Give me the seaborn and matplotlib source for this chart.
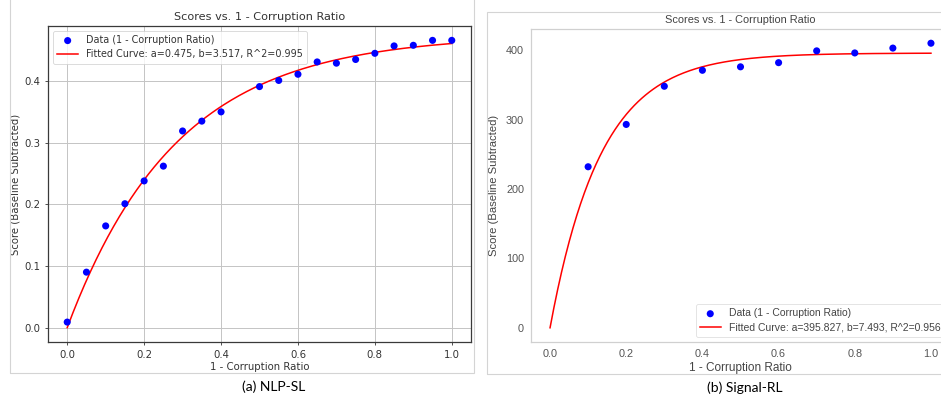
import numpy as np
import pandas as pd
import matplotlib
matplotlib.use("Agg")
import matplotlib.pyplot as plt
import seaborn as sns
from matplotlib.patches import Rectangle

# ---- data ----
x_nlp = [0.0, 0.05, 0.10, 0.15, 0.20, 0.25, 0.30, 0.35, 0.40, 0.50, 0.55, 0.60,
         0.65, 0.70, 0.75, 0.80, 0.85, 0.90, 0.95, 1.00]
y_nlp = [0.009, 0.090, 0.165, 0.201, 0.238, 0.262, 0.319, 0.335, 0.350, 0.391, 0.401, 0.411,
         0.431, 0.429, 0.435, 0.445, 0.457, 0.458, 0.466, 0.466]
a_nlp, b_nlp, r2_nlp = 0.475, 3.517, 0.995

x_sig = [0.1, 0.2, 0.3, 0.4, 0.5, 0.6, 0.7, 0.8, 0.9, 1.0]
y_sig = [232, 293, 348, 371, 376, 382, 399, 396, 403, 410]
a_sig, b_sig, r2_sig = 395.827, 7.493, 0.956

captions = ["(a) NLP-SL", "(b) Signal-RL"]
title = "Scores vs. 1 - Corruption Ratio"
xlabel = "1 - Corruption Ratio"
ylabel = "Score (Baseline Subtracted)"

W, H = 941, 396
fig = plt.figure(figsize=(W / 100, H / 100), dpi=100)

def px_axes(x0, y0, x1, y1):
    return [x0 / W, 1 - y1 / H, (x1 - x0) / W, (y1 - y0) / H]

fs = 7.3

def fit_curve(a, b):
    xs = np.linspace(0, 1, 200)
    return pd.DataFrame({"x": xs, "y": a * (1 - np.exp(-b * xs))})

# ---- left panel (matplotlib default look with grid) ----
ax1 = fig.add_axes(px_axes(48, 26, 471, 342))
ax1.set_axisbelow(True)
ax1.grid(True, color="#c4c4c4", linewidth=0.7)
d1 = pd.DataFrame({"x": x_nlp, "y": y_nlp})
sns.scatterplot(data=d1, x="x", y="y", ax=ax1, color="blue", s=26, edgecolor="none",
                label="Data (1 - Corruption Ratio)", zorder=3)
c1 = fit_curve(a_nlp, b_nlp)
sns.lineplot(data=c1, x="x", y="y", ax=ax1, color="red", linewidth=1.1,
             label=f"Fitted Curve: a={a_nlp:.3f}, b={b_nlp:.3f}, R^2={r2_nlp:.3f}", zorder=2)
ax1.set_xticks([0, 0.2, 0.4, 0.6, 0.8, 1.0])
ax1.set_yticks([0, 0.1, 0.2, 0.3, 0.4])
ax1.set_title(title, fontsize=fs + 0.8, color="#333333", pad=4)
ax1.set_xlabel(xlabel, fontsize=fs, color="#333333", labelpad=1.5)
ax1.set_ylabel(ylabel, fontsize=fs, color="#333333", labelpad=3)
ax1.tick_params(labelsize=fs, colors="#333333", length=2.5, width=0.6, pad=3)
for s in ax1.spines.values():
    s.set_color("#3a3a3a")
    s.set_linewidth(0.9)
leg1 = ax1.legend(loc="upper left", fontsize=6.9, frameon=True, borderpad=0.45,
                  handlelength=2.2, labelspacing=0.45, framealpha=0.8)
leg1.get_frame().set_edgecolor("#cccccc")
leg1.get_frame().set_linewidth(0.6)
for t in leg1.get_texts():
    t.set_color("#333333")

# ---- right panel (seaborn white look) ----
with sns.axes_style("white"):
    ax2 = fig.add_axes(px_axes(531, 29, 950, 342))
d2 = pd.DataFrame({"x": x_sig, "y": y_sig})
sns.scatterplot(data=d2, x="x", y="y", ax=ax2, color="blue", s=26, edgecolor="none",
                label="Data (1 - Corruption Ratio)", zorder=3)
c2 = fit_curve(a_sig, b_sig)
sns.lineplot(data=c2, x="x", y="y", ax=ax2, color="red", linewidth=1.1,
             label=f"Fitted Curve: a={a_sig:.3f}, b={b_sig:.3f}, R^2={r2_sig:.3f}", zorder=2)
ax2.set_xticks([0, 0.2, 0.4, 0.6, 0.8, 1.0])
ax2.set_yticks([0, 100, 200, 300, 400])
ax2.grid(False)
ax2.set_title(title, fontsize=fs + 0.6, color="#444444", pad=4, family="Liberation Sans")
ax2.set_xlabel(xlabel, fontsize=fs + 1.2, color="#444444", labelpad=2.5, family="Liberation Sans")
ax2.set_ylabel(ylabel, fontsize=fs + 0.8, color="#444444", labelpad=5, family="Liberation Sans")
ax2.tick_params(labelsize=fs + 0.5, colors="#555555", length=0, pad=5)
for lab in ax2.get_xticklabels() + ax2.get_yticklabels():
    lab.set_family("Liberation Sans")
for s in ax2.spines.values():
    s.set_color("#d0d0d0")
    s.set_linewidth(0.9)
leg2 = ax2.legend(loc="lower right", bbox_to_anchor=(1.0, 0.0), fontsize=fs + 0.2,
                  frameon=True, borderpad=0.4, handlelength=2.0, labelspacing=0.4,
                  prop={"family": "Liberation Sans", "size": fs + 0.2})
leg2.get_frame().set_edgecolor("#d8d8d8")
leg2.get_frame().set_linewidth(0.6)
for t in leg2.get_texts():
    t.set_color("#444444")

# ---- panel frames ----
def px_rect(x0, y0, x1, y1):
    return Rectangle((x0 / W, 1 - y1 / H), (x1 - x0) / W, (y1 - y0) / H,
                     transform=fig.transFigure, fill=False, edgecolor="#d4d4d4",
                     linewidth=0.8, clip_on=False)

fig.add_artist(px_rect(10, -5, 474, 373))
fig.add_artist(px_rect(487, 12, 960, 374))

# ---- captions ----
fig.text(274 / W, 1 - 387 / H, captions[0], ha="center", va="center",
         fontsize=10, family="Lato", color="black")
fig.text(745 / W, 1 - 388 / H, captions[1], ha="center", va="center",
         fontsize=10, family="Lato", color="black")

fig.savefig("out.png", dpi=100)
